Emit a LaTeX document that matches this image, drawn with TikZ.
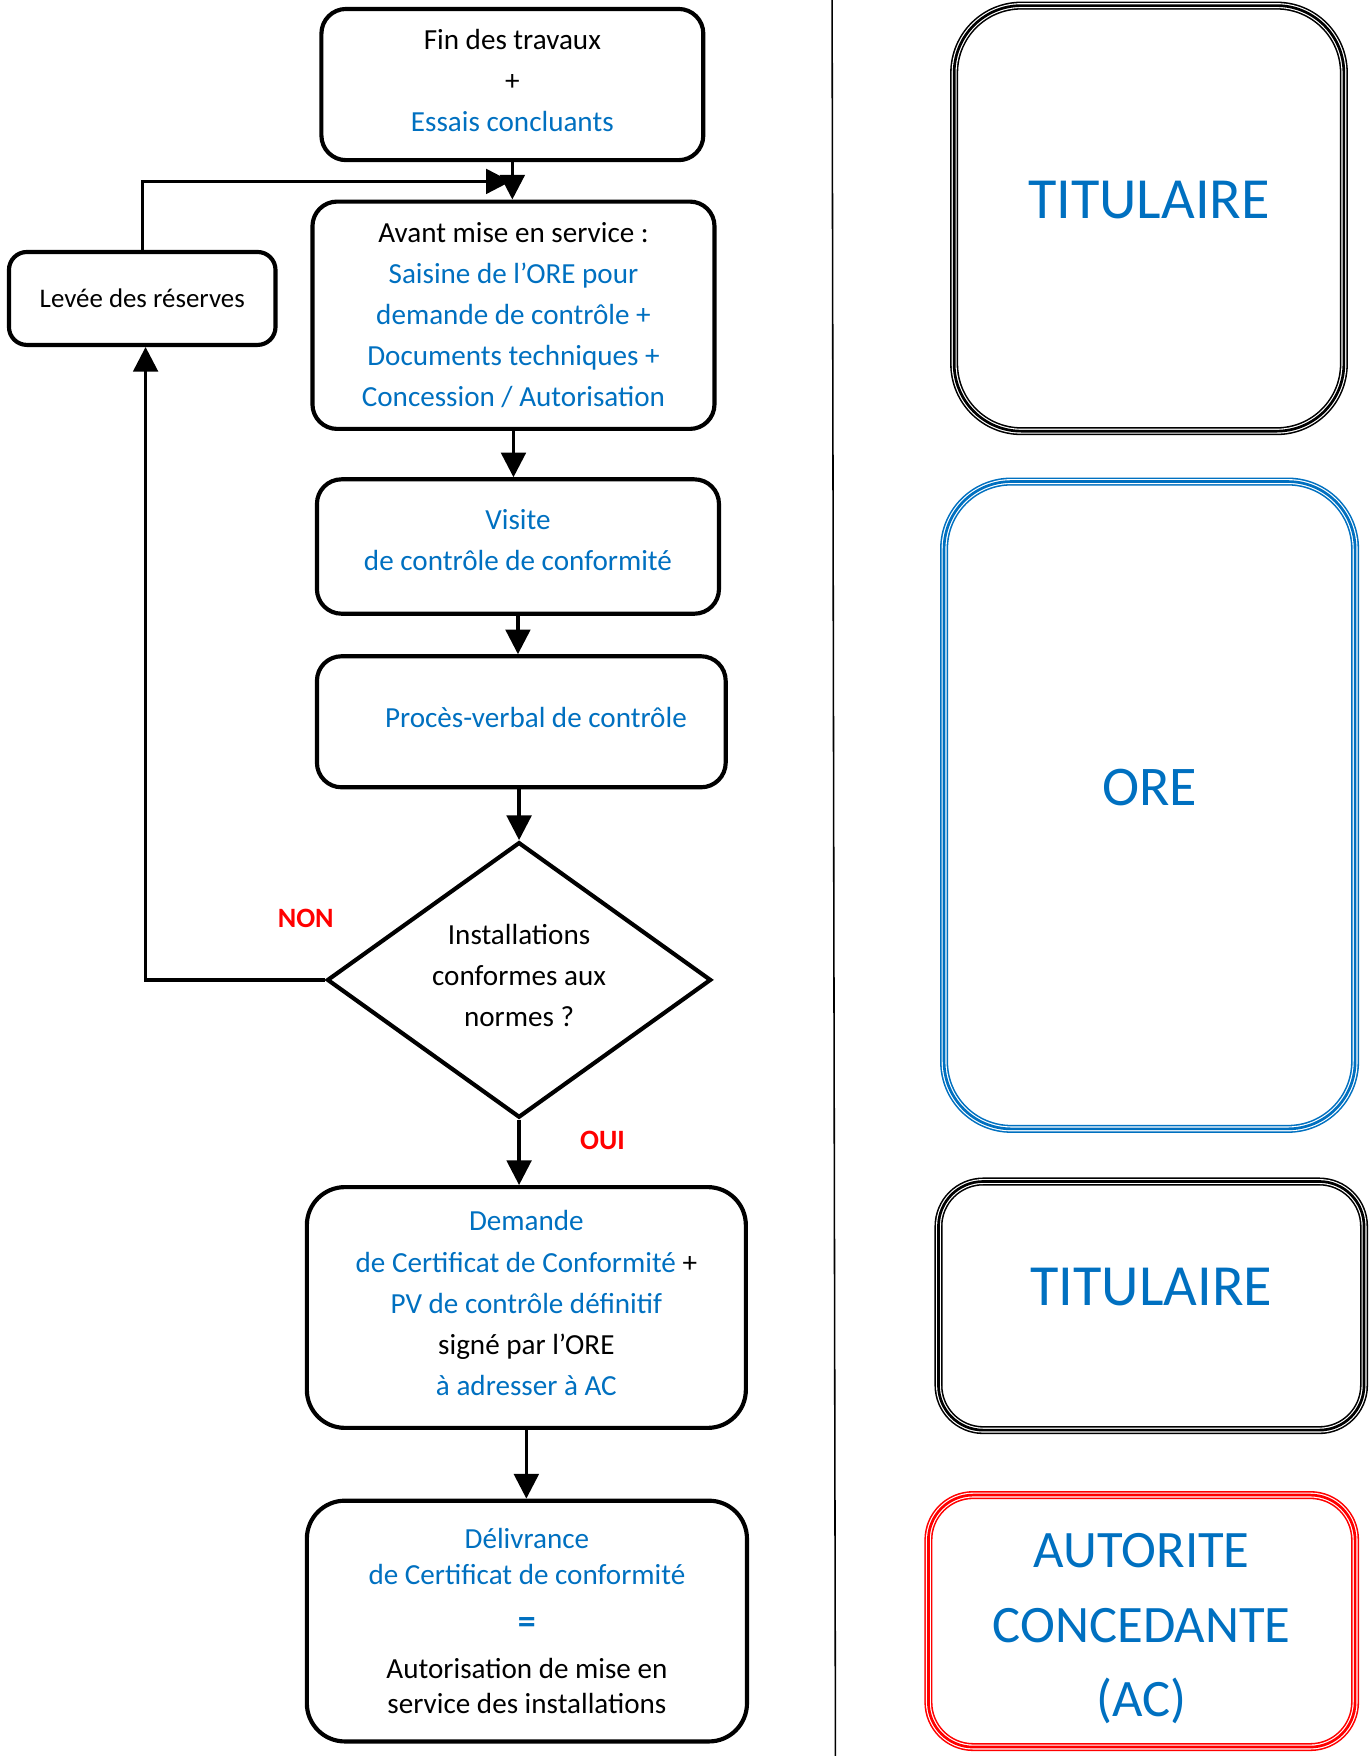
\documentclass[tikz,border=0pt]{standalone}
\usepackage{fontspec}
\setmainfont{Carlito}
\usetikzlibrary{shapes.geometric,arrows.meta}
\definecolor{oreblue}{HTML}{0070C0}
\definecolor{nonred}{HTML}{FF0000}
\begin{document}
\begin{tikzpicture}[x=0.5pt,y=-0.5pt,
  box/.style={draw, line width=1.85pt, rounded corners=11pt, inner sep=0pt, align=center,
    font=\fontsize{13}{18.35}\selectfont},
  decision/.style={draw, diamond, line width=1.85pt, inner sep=0pt, aspect=1.394, align=center,
    font=\fontsize{13}{18.5}\selectfont},
  arr/.style={line width=1.45pt, -{Triangle[width=11pt,length=11pt]}},
  role/.style={draw=white, line width=2.2pt, preaction={draw=#1, line width=3.6pt},
    postaction={draw=#1, line width=1.2pt}, inner sep=0pt, align=center, text=oreblue},
  answer/.style={text=nonred, font=\bfseries\fontsize{12.5}{15}\selectfont},
  sep/.style={line width=0.7pt}]
\useasboundingbox (0,0) rectangle (1223,1568);

% flowchart boxes
\node[box, minimum width=170.5pt, minimum height=67.5pt, text depth=4pt] (fin) at (457.5,75.5)
  {Fin des travaux\\+\\\textcolor{oreblue}{Essais concluants}};
\node[box, minimum width=179.5pt, minimum height=101.5pt] (avant) at (458.5,281.5)
  {Avant mise en service :\\\textcolor{oreblue}{Saisine de l’ORE pour}\\\textcolor{oreblue}{demande de contrôle +}\\\textcolor{oreblue}{Documents techniques +}\\\textcolor{oreblue}{Concession / Autorisation}};
\node[box, rounded corners=8pt, minimum width=119pt, minimum height=41.5pt,
  font=\fontsize{12}{15}\selectfont] (levee) at (127,266.5) {Levée des réserves};
\node[box, minimum width=179.5pt, minimum height=60pt, text depth=6pt] (visite) at (462.5,488)
  {\textcolor{oreblue}{Visite}\\\textcolor{oreblue}{de contrôle de conformité}};
\node[box, minimum width=182.5pt, minimum height=58.5pt, text depth=4pt] (pv) at (465.5,644.5)
  {\hspace*{13pt}\textcolor{oreblue}{Procès-verbal de contrôle}};
\node[decision, minimum width=171.5pt, minimum height=123pt, text depth=4pt] (dia) at (463.5,875)
  {Installations\\conformes aux\\normes ?};
\node[box, rounded corners=17pt, minimum width=196pt, minimum height=107.5pt, text depth=4pt] (demande) at (470,1167.5)
  {\textcolor{oreblue}{Demande}\\\textcolor{oreblue}{de Certificat de Conformité} +\\\textcolor{oreblue}{PV de contrôle définitif}\\signé par l’ORE\\\textcolor{oreblue}{à adresser à AC}};
\node[box, rounded corners=17pt, minimum width=196.5pt, minimum height=107.5pt,
  font=\fontsize{13}{16}\selectfont] (deliv) at (470.5,1447.5)
  {\textcolor{oreblue}{Délivrance}\\\textcolor{oreblue}{de Certificat de conformité}\\[6pt]{\fontsize{16}{16}\selectfont\bfseries\textcolor{oreblue}{=}}\\[4pt]Autorisation de mise en\\service des installations};

% answers
\node[answer] (non) at (273,820) {NON};
\node[answer] (oui) at (538,1018) {OUI};

% connectors
\coordinate (loopend) at (456,162);
\draw[arr] (fin.south) -- (fin.south |- avant.north);
\draw[arr] (levee.north) |- (loopend);
\draw[arr] (avant.south) -- (avant.south |- visite.north);
\draw[arr] (visite.south) -- (visite.south |- pv.north);
\draw[arr] (pv.south -| dia.north) -- (dia.north);
\draw[arr] (dia.south) -- (dia.south |- demande.north);
\draw[arr] (demande.south) -- (demande.south |- deliv.north);
\draw[arr] (dia.west) -| ([xshift=1.5pt]levee.south);

% separator
\coordinate (sepT) at (743,0);
\coordinate (sepB) at (746,1568);
\draw[sep] (sepT) -- (sepB);

% role boxes
\node[role=black, rounded corners=30pt, minimum width=174pt, minimum height=190pt,
  font=\fontsize{26}{31}\selectfont, text height=14pt, text depth=14pt] (tit1) at (1026,195) {TITULAIRE};
\node[role=oreblue, rounded corners=30pt, minimum width=183.5pt, minimum height=289pt,
  font=\fontsize{25}{30}\selectfont, text height=14pt, text depth=14pt] (ore) at (1026.5,719) {ORE};
\node[role=black, rounded corners=20pt, minimum width=190pt, minimum height=111pt,
  font=\fontsize{26}{31}\selectfont, text height=14pt, text depth=14pt] (tit2) at (1028,1166) {TITULAIRE};
\node[role=nonred, rounded corners=20pt, minimum width=190.5pt, minimum height=112.5pt,
  font=\fontsize{23.5}{33.25}\selectfont, text height=85.6pt, text depth=0pt] (ac) at (1019.5,1447.5) {AUTORITE\\CONCEDANTE\\(AC)};
\end{tikzpicture}
\end{document}
